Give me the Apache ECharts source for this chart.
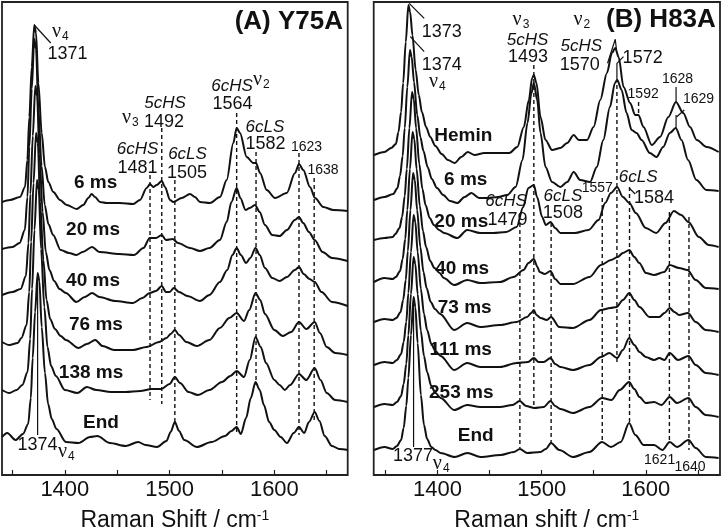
<!DOCTYPE html>
<html><head><meta charset="utf-8">
<script src="https://cdn.jsdelivr.net/npm/echarts@6/dist/echarts.min.js"></script>
<style>html,body{margin:0;padding:0;background:#fff}#c{width:722px;height:531px}</style>
</head><body><div id="c"></div>
<script>
// ---------- tick values ----------
const tickValues = [1350, 1400, 1450, 1500, 1550, 1600, 1650];
const tickLabels = [1400, 1500, 1600];

// ---------- Panel A (Y75A) spectra: [Raman shift cm-1, stacked intensity a.u.] ----------
const A_6ms = [[1340,273],[1347.6,275],[1357.2,278],[1362,288],[1364.2,315],[1366.1,358],[1368.4,408],[1370.8,450],[1372.5,442],[1374.7,392],[1377.9,342],[1381,308],[1384.2,293],[1389,283],[1395.4,275],[1401.8,270],[1411.3,266],[1417.6,270],[1422.4,277],[1425.6,281],[1428.8,278],[1433.5,273],[1440,272],[1452.6,272],[1465.3,271],[1471.7,275],[1478.1,287],[1481.3,291],[1484.4,288],[1487.7,290],[1492.5,294],[1495.6,288],[1500.4,275],[1503.5,273],[1511.5,277],[1519.5,281],[1524.2,278],[1529,273],[1538.5,272],[1548.1,278],[1554.5,295],[1560.8,332],[1564,347],[1567.2,342],[1573.6,318],[1579.9,312],[1582.5,312],[1586.3,302],[1592.7,285],[1600.6,277],[1611.8,282],[1619.7,302],[1623.5,311],[1627.6,305],[1634,288],[1638.8,277],[1646.7,268],[1656.3,265],[1670,264]];
const A_20ms = [[1340,226],[1350,228],[1356.8,232],[1361.8,245],[1364.3,278],[1366.1,328],[1368.4,386],[1370.8,436],[1372.5,426],[1374.7,367],[1377.8,309],[1380.8,270],[1384.3,251],[1388.8,240],[1396,225],[1404,222],[1411,220],[1417,223],[1426,228],[1433,223],[1452,221],[1466,220],[1475,227],[1481,237],[1487,237],[1492.5,240],[1496.5,235],[1503,236],[1508,232],[1519.5,227],[1529,224],[1538,227],[1548,235],[1554.5,253],[1559,273],[1564,287],[1567.5,277],[1572.5,265],[1576.5,267],[1581.5,270],[1586,263],[1591,250],[1598,240],[1605,239],[1612,245],[1619.5,255],[1623.5,258],[1627.5,252],[1633,243],[1638.5,235],[1646,223],[1655,217],[1670,214]];
const A_40ms = [[1340,180],[1350,183],[1357.8,186],[1362.8,199],[1365.3,232],[1367.1,281],[1369.4,339],[1371.8,389],[1373.5,379],[1375.7,321],[1378.8,263],[1381.8,223],[1385.3,205],[1389.8,194],[1395,186],[1401,182],[1411,173],[1419,178],[1426,182],[1433,178],[1448,174],[1465,172],[1474,177],[1481,182],[1487,184],[1492.5,189],[1496.5,183],[1500,183],[1504,187],[1509,183],[1517,179],[1529,174],[1538,180],[1548,193],[1555,205],[1560,220],[1564,227],[1568,220],[1573,212],[1577,217],[1582,227],[1586,220],[1591,207],[1598,197],[1605,194],[1612,198],[1619.5,205],[1623.5,208],[1628,201],[1633.5,196],[1638.5,193],[1645,183],[1655,173],[1670,169]];
const A_76ms = [[1340,133],[1347,130],[1355,132],[1358.5,137],[1363.5,150],[1366,183],[1367.8,233],[1370.1,292],[1372.5,342],[1374.2,332],[1376.4,273],[1379.5,215],[1382.5,175],[1386,156],[1390.5,146],[1396,139],[1401,135],[1413,127],[1421,131],[1429,135],[1436,129],[1447,125],[1465,125],[1478,128],[1490,133],[1497,137],[1501,141],[1505,145],[1509,140],[1516,133],[1526,129],[1538,135],[1548,147],[1557,157],[1564,162],[1571,154],[1576,165],[1582,182],[1586.5,175],[1591,161],[1600,145],[1608,139],[1616,143],[1623.5,153],[1630.5,146],[1638.5,153],[1643.5,142],[1650,128],[1658,122],[1670,120]];
const A_138ms = [[1340,85],[1347,82],[1354,85],[1359.4,90],[1364.4,103],[1366.9,136],[1368.7,186],[1371,245],[1373.4,295],[1375.1,285],[1377.3,226],[1380.4,168],[1383.4,128],[1386.9,109],[1391.4,99],[1400,85],[1412,82],[1421,88],[1430,85],[1444,83],[1458,83],[1472,84],[1483,86],[1492,86],[1500,91],[1505,98],[1510,92],[1518,83],[1527,80],[1538,85],[1550,93],[1558,99],[1564,104],[1571,98],[1576.5,115],[1582,138],[1587,128],[1592,112],[1600,95],[1605,90],[1610,85],[1615,90],[1623.5,101],[1630.5,95],[1638.5,107],[1644,95],[1650,82],[1658,75],[1670,73]];
const A_End = [[1340,38],[1345,42],[1353,35],[1360,41],[1365,51],[1367.5,77],[1369.3,117],[1371.6,163],[1374,202],[1375.7,194],[1377.9,148],[1381,102],[1384,71],[1387.5,56],[1392,46],[1401,33],[1413,32],[1424,38],[1431,39],[1443,32],[1458,29],[1470,33],[1477,30],[1488,28],[1497,34],[1501,43],[1505,53],[1509,44],[1514,35],[1526,28],[1540,33],[1553,39],[1559,44],[1564,48],[1568,41],[1573,57],[1577.5,77],[1582,93],[1586,85],[1590,70],[1595,53],[1600,45],[1606,38],[1612,32],[1618.5,42],[1623.5,48],[1628.5,42],[1633,53],[1638.5,63],[1643,54],[1648,39],[1655,29],[1662,26],[1670,25]];

// ---------- Panel B (H83A) spectra ----------
const B_Hemin = [[1339,320],[1349,323],[1355.5,327],[1360,331],[1362.5,343],[1365,363],[1367,392],[1369.5,433],[1372,470],[1373.7,463],[1375.9,440],[1379,405],[1382,380],[1385,363],[1389,348],[1393,338],[1398,329],[1404,321],[1410,315],[1416.5,312],[1422.8,318],[1429,323],[1435.6,320],[1445,322],[1458,322],[1469,322],[1476.6,328],[1482.9,348],[1487.7,375],[1490.9,397],[1492.5,400],[1495,392],[1498.9,358],[1503.7,335],[1510,325],[1518,327],[1524.5,332],[1530.8,340],[1535.6,335],[1543.6,335],[1549.9,348],[1556.3,375],[1562.7,402],[1567.5,422],[1570.7,427],[1573.9,418],[1578.7,388],[1585,372],[1589.8,360],[1593,360],[1597.8,348],[1605.8,330],[1613.7,338],[1621.7,358],[1629,373],[1636,362],[1642.5,348],[1649,335],[1658.5,328],[1670,323]];
const B_6ms = [[1339,275],[1349,278],[1357.5,281],[1361.5,287],[1364,299],[1366.5,319],[1368.5,347],[1371,388],[1373.5,425],[1375.2,418],[1377.4,393],[1380.5,360],[1383.5,338],[1386.5,324],[1390.5,308],[1394.5,296],[1399.5,287],[1405.5,280],[1412,274],[1419,272],[1426,278],[1432.5,282],[1440,277],[1448,277],[1458,278],[1467,280],[1475,288],[1481.6,315],[1486.4,352],[1490.2,382],[1492.5,392],[1495.7,375],[1498.9,342],[1503.7,308],[1510,293],[1518,288],[1524.5,293],[1530.8,303],[1537,295],[1546.5,293],[1553,308],[1559.2,335],[1565.6,368],[1570.4,392],[1572.6,395],[1576.8,385],[1581.6,362],[1586.4,345],[1591.2,342],[1596,335],[1603.9,322],[1610.3,318],[1616.7,328],[1623.1,342],[1628.8,347],[1634.3,335],[1640.6,315],[1648.6,295],[1658.2,285],[1670,284]];
const B_20ms = [[1339,235],[1349,237],[1357,238],[1359.5,241],[1363.5,247],[1366,258],[1368.5,279],[1370.5,306],[1373,347],[1375.5,383],[1377.2,376],[1379.4,347],[1382.5,311],[1385.5,286],[1388.5,270],[1392.5,257],[1396.5,250],[1401.5,245],[1406.4,242],[1419,237],[1428.5,245],[1441,242],[1453.5,242],[1466,243],[1476,248],[1482.3,268],[1487.2,287],[1492.5,290],[1495.6,278],[1500.5,258],[1504,250],[1508.5,253],[1513,247],[1518,242],[1532,242],[1545,245],[1554.7,255],[1561,272],[1566.5,282],[1572.5,288],[1578,278],[1584.3,272],[1590.5,262],[1600,247],[1610,242],[1619,252],[1627,264],[1634,260],[1641,253],[1651,238],[1660.5,230],[1670,228]];
const B_40ms = [[1339,193],[1349,197],[1357,196],[1360,198],[1364,204],[1366.5,216],[1369,236],[1371,265],[1373.5,306],[1376,343],[1377.7,336],[1379.9,306],[1383,269],[1386,244],[1389,228],[1393,214],[1397,207],[1402,202],[1406,197],[1416,190],[1428.5,195],[1441,192],[1460,193],[1473,198],[1482.6,205],[1487.4,212],[1492.5,216],[1496,208],[1498,203],[1503,201],[1508.5,204],[1513,196],[1518,191],[1530,191],[1546,198],[1557,210],[1566.6,215],[1573,218],[1578,222],[1584.2,225],[1589,218],[1593.8,212],[1600.2,202],[1608,200],[1617.7,203],[1623,210],[1632,207],[1640,205],[1648,195],[1657.6,187],[1670,186]];
const B_73ms = [[1339,153],[1349,156],[1357,155],[1360.5,157],[1364.5,163],[1367,175],[1369.5,195],[1371.5,224],[1374,265],[1376.5,302],[1378.2,295],[1380.4,265],[1383.5,228],[1386.5,203],[1389.5,187],[1393.5,173],[1397.5,166],[1402.5,161],[1416,145],[1428.5,152],[1441,148],[1460,150],[1476,153],[1486,158],[1490,162],[1492.5,165],[1495,160],[1499,157],[1505,155],[1509,158],[1517,148],[1530,147],[1546,155],[1557,165],[1566,167],[1572,168],[1578,175],[1584.2,182],[1589,175],[1594,168],[1603.5,158],[1613,158],[1618,162],[1623,167],[1627.5,163],[1632,160],[1640.5,162],[1648,153],[1657.6,145],[1670,143]];
const B_111ms = [[1339,110],[1349,113],[1357,112],[1361,115],[1365,121],[1367.5,133],[1370,153],[1372,182],[1374.5,223],[1377,260],[1378.7,253],[1380.9,223],[1384,186],[1387,161],[1390,145],[1394,131],[1398,124],[1403,119],[1416,105],[1428.5,112],[1441,108],[1460,108],[1476,112],[1487,113],[1492.5,117],[1497,113],[1502,113],[1508.5,117],[1513,111],[1518,108],[1530,105],[1546,110],[1557,118],[1565,122],[1572.5,117],[1578,125],[1584,137],[1589,130],[1594,123],[1600,118],[1608,115],[1613,117],[1618,115],[1623,122],[1631,115],[1641,119],[1648,110],[1657.6,102],[1670,100]];
const B_253ms = [[1339,68],[1349,71],[1357,70],[1361,73],[1365,79],[1367.5,91],[1370,111],[1372,140],[1374.5,181],[1377,218],[1378.7,211],[1380.9,181],[1384,144],[1387,119],[1390,103],[1394,89],[1398,82],[1403,77],[1416,65],[1428.5,70],[1441,68],[1460,68],[1472,70],[1479,74],[1485,69],[1493,67],[1502,68],[1508.5,74],[1513,69],[1518,66],[1530,62],[1546,68],[1558,77],[1567,75],[1575,85],[1584,93],[1589,86],[1594,78],[1600,72],[1608,73],[1615,70],[1623,78],[1630,72],[1641,77],[1648,68],[1657.6,60],[1670,58]];
const B_End = [[1339,25],[1349,28],[1357,26],[1361,29],[1365,35],[1367.5,47],[1370,69],[1372,97],[1374.5,140],[1377,178],[1378.7,168],[1380.9,132],[1384,80],[1387,50],[1390,36],[1394,28],[1398,25],[1403,22],[1416.5,18],[1428.7,22],[1441.5,18],[1460.6,20],[1473.3,23],[1479.1,26],[1486.1,22],[1498.9,23],[1504,26],[1509,32],[1517,25],[1530,18],[1546,23],[1558,33],[1566.6,28],[1576,33],[1584,52],[1590,40],[1598,30],[1608,30],[1616,25],[1623,33],[1630,28],[1641,35],[1648,27],[1657.6,18],[1670,17]];

// ---------- marker lines: [shift, upper, lower] ----------
const A_dashed = [[1481.3,300,75],[1492.5,347,71],[1505,295,52],[1564,362,40],[1582.5,323,90],[1623.5,322,40],[1638,297,55]];
const B_dashed = [[1479.1,252,27],[1492.5,410,67],[1509.1,252,30],[1558.2,277,33],[1572.3,390,112],[1584.4,288,52],[1593.1,373,360],[1622.7,263,33],[1641.5,258,25]];

// leader lines for annotations
const A_leaders = [[[1370.8,450],[1386.5,432]], [[1374,202],[1374,40]]];
const B_leaders = [
  [[1372.8,471.7],[1387.2,456.7]], [[1373.8,438.3],[1387.2,423.3]],
  [[1563.3,411.7],[1570.7,435.7],[1571.9,425]],
  [[1572.3,395],[1572.3,411.7],[1578.6,418.3]],
  [[1629.1,388],[1629.1,373]], [[1637,365],[1629.5,358]], [[1629.1,360],[1629.1,347]],
  [[1584.1,287],[1589.8,281]], [[1377,178],[1377,28]]
];

// annotations: text + anchor in data coords
const A_notes = [
  ['(A) Y75A',1665.5,453,'title','right'],
  ['ν{s|4}',1387.7,443,'nu','left'],['1371',1402.5,421,'num'],
  ['ν{s|3}',1454.6,357,'nu','left'],['5cHS',1495.6,372,'ital'],['1492',1494.6,352.5,'num'],
  ['6cHS',1469.4,326,'ital'],['1481',1469.4,306.5,'num'],
  ['6cLS',1517.1,321,'ital'],['1505',1516.6,302,'num'],
  ['6cHS',1559.6,388.5,'ital'],['1564',1560,370.5,'num'],['ν{s|2}',1579.6,395,'nu','left'],
  ['6cLS',1591,348,'ital'],['1582',1591.5,330.5,'num'],
  ['1623',1630.7,328,'small'],['1638',1646.4,305,'small'],
  ['1374',1373.9,29.5,'num'],['ν{s|4}',1393.5,23,'nu','left'],
  ['6 ms',1429.3,292.5,'time'],['20 ms',1426.9,245.5,'time'],['40 ms',1426.9,194.5,'time'],
  ['76 ms',1429.7,150.5,'time'],['138 ms',1425,102.5,'time'],['End',1434.5,52.5,'time']
];
const B_notes = [
  ['(B) H83A',1667.3,455,'title','right'],
  ['1373',1404.1,442.5,'num'],['1374',1404.1,409.5,'num'],['ν{s|4}',1391.7,393,'nu','left'],
  ['ν{s|3}',1472.1,455,'nu','left'],['5cHS',1486.4,435,'ital'],['1493',1486.9,417.5,'num'],
  ['ν{s|2}',1530.5,455,'nu','left'],['5cHS',1538.1,429,'ital'],['1570',1536.7,409.5,'num'],
  ['1572',1597,416.5,'num'],['1592',1597.5,381,'small'],['1628',1630.5,396,'small'],['1629',1650.6,376,'small'],
  ['Hemin',1424.7,339.5,'time'],['6 ms',1427.1,295.5,'time'],['20 ms',1422.8,253.5,'time'],['40 ms',1423.7,206.5,'time'],
  ['73 ms',1426.1,167.5,'time'],['111 ms',1422.3,125.5,'time'],['253 ms',1422.8,82.5,'time'],['End',1436.7,39.5,'time'],
  ['6cHS',1465.9,274,'ital'],['1479',1467.3,255,'num'],['6cLS',1520.4,279,'ital'],['1508',1520.4,261.5,'num'],
  ['1557',1553.4,287,'small'],['6cLS',1592.7,297.5,'ital'],['1584',1608,277,'num'],
  ['1377',1376.4,18.5,'num'],['ν{s|4}',1395.5,11,'nu','left'],['1621',1613.3,15,'small'],['1640',1642.5,7.5,'small']
];

const SANS = 'Liberation Sans, Arial, sans-serif';
const SERIF = 'Liberation Serif, Times New Roman, serif';
const INK = '#111';

const chart = echarts.init(document.getElementById('c'), null, {renderer: 'canvas'});

function spec(data, gi) {
  return {type:'line', xAxisIndex:gi, yAxisIndex:gi, data:data, symbol:'none', showSymbol:false,
    smooth:0.3, smoothMonotone:'x', silent:true, animation:false, z:3,
    lineStyle:{color:INK, width:2}};
}
function seg(pts, gi, dashed) {
  return {type:'line', xAxisIndex:gi, yAxisIndex:gi, data:pts, symbol:'none', showSymbol:false,
    silent:true, animation:false, z:2,
    lineStyle:{color:INK, width: dashed ? 1.4 : 1.2, type: dashed ? [4,3] : 'solid'}};
}

const series = [];
[A_6ms,A_20ms,A_40ms,A_76ms,A_138ms,A_End].forEach(d => series.push(spec(d,0)));
[B_Hemin,B_6ms,B_20ms,B_40ms,B_73ms,B_111ms,B_253ms,B_End].forEach(d => series.push(spec(d,1)));
A_dashed.forEach(d => series.push(seg([[d[0],d[1]],[d[0],d[2]]],0,true)));
B_dashed.forEach(d => series.push(seg([[d[0],d[1]],[d[0],d[2]]],1,true)));
A_leaders.forEach(d => series.push(seg(d,0,false)));
B_leaders.forEach(d => series.push(seg(d,1,false)));

function xAx(gi, min, max, name) {
  return {gridIndex:gi, type:'value', min:min, max:max,
    axisLine:{show:false}, splitLine:{show:false},
    axisTick:{show:true, inside:true, length:5, customValues:tickValues, lineStyle:{color:'#222', width:1.2}},
    axisLabel:{customValues:tickLabels, formatter:v => String(v), fontSize:22, color:INK, fontFamily:SANS, margin:4},
    name:name, nameLocation:'middle', nameGap:34,
    nameTextStyle:{fontSize:23, color:INK, fontFamily:SANS,
      rich:{sup:{fontSize:14, color:INK, fontFamily:SANS, verticalAlign:'top'}}}};
}
function yAx(gi) {
  return {gridIndex:gi, type:'value', min:0, max:473, show:false};
}

chart.setOption({
  animation:false,
  backgroundColor:'#fff',
  grid:[
    {left:2, top:2, width:345.7, height:473, show:true, borderColor:'#222', borderWidth:1.8, backgroundColor:'transparent', outerBoundsMode:'none'},
    {left:373.7, top:2, width:346.3, height:473, show:true, borderColor:'#222', borderWidth:1.8, backgroundColor:'transparent', outerBoundsMode:'none'}
  ],
  xAxis:[xAx(0,1340,1670,'Raman Shift / cm{sup|-1}'), xAx(1,1338.7,1671.3,'Raman shift / cm{sup|-1}')],
  yAxis:[yAx(0), yAx(1)],
  series:series
});

const kinds = {
  title:{fontSize:26, fontWeight:'bold', fontFamily:SANS},
  num:{fontSize:18, fontFamily:SANS},
  ital:{fontSize:17, fontStyle:'italic', fontFamily:SANS},
  small:{fontSize:14, fontFamily:SANS},
  time:{fontSize:19, fontWeight:'bold', fontFamily:SANS},
  nu:{fontSize:20, fontFamily:SERIF}
};
const graphics = [];
[[A_notes,0],[B_notes,1]].forEach(([notes, gi]) => {
  notes.forEach(n => {
    const p = chart.convertToPixel({xAxisIndex:gi, yAxisIndex:gi}, [n[1], n[2]]);
    const k = kinds[n[3]];
    graphics.push({type:'text', x:p[0], y:p[1], silent:true, z:10,
      style:Object.assign({text:n[0], fill:INK, align:n[4] || 'center', verticalAlign:'middle',
        rich:{s:{fontSize:12, fontFamily:SANS, fill:INK, verticalAlign:'bottom', padding:[10,0,0,1]}}}, k)});
  });
});
chart.setOption({graphic:graphics});
</script></body></html>
